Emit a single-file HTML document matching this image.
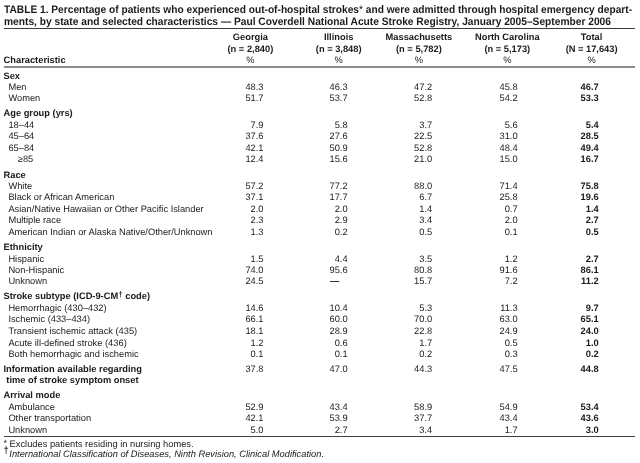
<!DOCTYPE html>
<html><head><meta charset="utf-8"><style>
html,body{margin:0;padding:0;background:#fff;}
body{width:640px;height:463px;position:relative;overflow:hidden;text-rendering:geometricPrecision;font-family:"Liberation Sans",Arial,sans-serif;color:#1a1a1a;}
.t{position:absolute;white-space:nowrap;font-size:9.3px;line-height:12px;}
.ti{font-size:10.9px;font-weight:bold;}
.b{font-weight:bold;}
.i{font-style:italic;}
.c{width:120px;text-align:center;}
.fn{font-size:9px;}
.fn2{font-size:9.4px;font-weight:bold;}
sup{font-size:0.86em;line-height:0;vertical-align:1.6px;}
.ast{font-weight:normal;}
.rule{position:absolute;left:4px;width:631px;}
#w{position:absolute;left:0;top:0;width:640px;height:463px;will-change:transform;}
</style></head><body><div id="w">
<div class="t ti" style="top:3.62px;left:4.00px;transform:scaleX(0.9345);transform-origin:0 0">TABLE 1. Percentage of patients who experienced out-of-hospital strokes<span class="ast">*</span> and were admitted through hospital emergency depart-</div>
<div class="t ti" style="top:16.12px;left:4.00px;transform:scaleX(0.938);transform-origin:0 0">ments, by state and selected characteristics &mdash; Paul Coverdell National Acute Stroke Registry, January 2005&ndash;September 2006</div>
<div class="rule" style="top:28px;height:1px;background:#3d3a3c"></div>
<div class="t c b" style="top:31.03px;left:190.40px;">Georgia</div>
<div class="t c b" style="top:42.53px;left:190.40px;">(n = 2,840)</div>
<div class="t c " style="top:54.08px;left:190.40px;">%</div>
<div class="t c b" style="top:31.03px;left:278.70px;">Illinois</div>
<div class="t c b" style="top:42.53px;left:278.70px;">(n = 3,848)</div>
<div class="t c " style="top:54.08px;left:278.70px;">%</div>
<div class="t c b" style="top:31.03px;left:358.90px;">Massachusetts</div>
<div class="t c b" style="top:42.53px;left:358.90px;">(n = 5,782)</div>
<div class="t c " style="top:54.08px;left:358.90px;">%</div>
<div class="t c b" style="top:31.03px;left:447.30px;">North Carolina</div>
<div class="t c b" style="top:42.53px;left:447.30px;">(n = 5,173)</div>
<div class="t c " style="top:54.08px;left:447.30px;">%</div>
<div class="t c b" style="top:31.03px;left:531.60px;">Total</div>
<div class="t c b" style="top:42.53px;left:531.60px;">(N = 17,643)</div>
<div class="t c " style="top:54.08px;left:531.60px;">%</div>
<div class="t b" style="top:54.08px;left:3.60px;">Characteristic</div>
<div class="rule" style="top:66px;height:2px;background:#8e8a8b"></div>
<div class="t b" style="top:70.08px;left:3.50px;">Sex</div>
<div class="t " style="top:81.08px;left:8.40px;">Men</div>
<div class="t " style="top:81.08px;right:376.50px;">48.3</div>
<div class="t " style="top:81.08px;right:292.40px;">46.3</div>
<div class="t " style="top:81.08px;right:207.80px;">47.2</div>
<div class="t " style="top:81.08px;right:122.40px;">45.8</div>
<div class="t b" style="top:81.08px;right:41.30px;">46.7</div>
<div class="t " style="top:92.08px;left:8.40px;">Women</div>
<div class="t " style="top:92.08px;right:376.50px;">51.7</div>
<div class="t " style="top:92.08px;right:292.40px;">53.7</div>
<div class="t " style="top:92.08px;right:207.80px;">52.8</div>
<div class="t " style="top:92.08px;right:122.40px;">54.2</div>
<div class="t b" style="top:92.08px;right:41.30px;">53.3</div>
<div class="t b" style="top:107.08px;left:3.50px;">Age group (yrs)</div>
<div class="t " style="top:119.08px;left:8.40px;">18&ndash;44</div>
<div class="t " style="top:119.08px;right:376.50px;">7.9</div>
<div class="t " style="top:119.08px;right:292.40px;">5.8</div>
<div class="t " style="top:119.08px;right:207.80px;">3.7</div>
<div class="t " style="top:119.08px;right:122.40px;">5.6</div>
<div class="t b" style="top:119.08px;right:41.30px;">5.4</div>
<div class="t " style="top:130.08px;left:8.40px;">45&ndash;64</div>
<div class="t " style="top:130.08px;right:376.50px;">37.6</div>
<div class="t " style="top:130.08px;right:292.40px;">27.6</div>
<div class="t " style="top:130.08px;right:207.80px;">22.5</div>
<div class="t " style="top:130.08px;right:122.40px;">31.0</div>
<div class="t b" style="top:130.08px;right:41.30px;">28.5</div>
<div class="t " style="top:142.08px;left:8.40px;">65&ndash;84</div>
<div class="t " style="top:142.08px;right:376.50px;">42.1</div>
<div class="t " style="top:142.08px;right:292.40px;">50.9</div>
<div class="t " style="top:142.08px;right:207.80px;">52.8</div>
<div class="t " style="top:142.08px;right:122.40px;">48.4</div>
<div class="t b" style="top:142.08px;right:41.30px;">49.4</div>
<div class="t " style="top:153.08px;left:17.80px;">&ge;85</div>
<div class="t " style="top:153.08px;right:376.50px;">12.4</div>
<div class="t " style="top:153.08px;right:292.40px;">15.6</div>
<div class="t " style="top:153.08px;right:207.80px;">21.0</div>
<div class="t " style="top:153.08px;right:122.40px;">15.0</div>
<div class="t b" style="top:153.08px;right:41.30px;">16.7</div>
<div class="t b" style="top:169.08px;left:3.50px;">Race</div>
<div class="t " style="top:180.08px;left:8.40px;">White</div>
<div class="t " style="top:180.08px;right:376.50px;">57.2</div>
<div class="t " style="top:180.08px;right:292.40px;">77.2</div>
<div class="t " style="top:180.08px;right:207.80px;">88.0</div>
<div class="t " style="top:180.08px;right:122.40px;">71.4</div>
<div class="t b" style="top:180.08px;right:41.30px;">75.8</div>
<div class="t " style="top:191.08px;left:8.40px;">Black or African American</div>
<div class="t " style="top:191.08px;right:376.50px;">37.1</div>
<div class="t " style="top:191.08px;right:292.40px;">17.7</div>
<div class="t " style="top:191.08px;right:207.80px;">6.7</div>
<div class="t " style="top:191.08px;right:122.40px;">25.8</div>
<div class="t b" style="top:191.08px;right:41.30px;">19.6</div>
<div class="t " style="top:203.08px;left:8.40px;">Asian/Native Hawaiian or Other Pacific Islander</div>
<div class="t " style="top:203.08px;right:376.50px;">2.0</div>
<div class="t " style="top:203.08px;right:292.40px;">2.0</div>
<div class="t " style="top:203.08px;right:207.80px;">1.4</div>
<div class="t " style="top:203.08px;right:122.40px;">0.7</div>
<div class="t b" style="top:203.08px;right:41.30px;">1.4</div>
<div class="t " style="top:214.08px;left:8.40px;">Multiple race</div>
<div class="t " style="top:214.08px;right:376.50px;">2.3</div>
<div class="t " style="top:214.08px;right:292.40px;">2.9</div>
<div class="t " style="top:214.08px;right:207.80px;">3.4</div>
<div class="t " style="top:214.08px;right:122.40px;">2.0</div>
<div class="t b" style="top:214.08px;right:41.30px;">2.7</div>
<div class="t " style="top:226.08px;left:8.40px;">American Indian or Alaska Native/Other/Unknown</div>
<div class="t " style="top:226.08px;right:376.50px;">1.3</div>
<div class="t " style="top:226.08px;right:292.40px;">0.2</div>
<div class="t " style="top:226.08px;right:207.80px;">0.5</div>
<div class="t " style="top:226.08px;right:122.40px;">0.1</div>
<div class="t b" style="top:226.08px;right:41.30px;">0.5</div>
<div class="t b" style="top:241.08px;left:3.50px;">Ethnicity</div>
<div class="t " style="top:253.08px;left:8.40px;">Hispanic</div>
<div class="t " style="top:253.08px;right:376.50px;">1.5</div>
<div class="t " style="top:253.08px;right:292.40px;">4.4</div>
<div class="t " style="top:253.08px;right:207.80px;">3.5</div>
<div class="t " style="top:253.08px;right:122.40px;">1.2</div>
<div class="t b" style="top:253.08px;right:41.30px;">2.7</div>
<div class="t " style="top:264.08px;left:8.40px;">Non-Hispanic</div>
<div class="t " style="top:264.08px;right:376.50px;">74.0</div>
<div class="t " style="top:264.08px;right:292.40px;">95.6</div>
<div class="t " style="top:264.08px;right:207.80px;">80.8</div>
<div class="t " style="top:264.08px;right:122.40px;">91.6</div>
<div class="t b" style="top:264.08px;right:41.30px;">86.1</div>
<div class="t " style="top:275.08px;left:8.40px;">Unknown</div>
<div class="t " style="top:275.08px;right:376.50px;">24.5</div>
<div class="t b" style="top:275.08px;right:300.60px;">&mdash;</div>
<div class="t " style="top:275.08px;right:207.80px;">15.7</div>
<div class="t " style="top:275.08px;right:122.40px;">7.2</div>
<div class="t b" style="top:275.08px;right:41.30px;">11.2</div>
<div class="t b" style="top:290.08px;left:3.50px;">Stroke subtype (ICD-9-CM<sup>&dagger;</sup> code)</div>
<div class="t " style="top:302.08px;left:8.40px;">Hemorrhagic (430&ndash;432)</div>
<div class="t " style="top:302.08px;right:376.50px;">14.6</div>
<div class="t " style="top:302.08px;right:292.40px;">10.4</div>
<div class="t " style="top:302.08px;right:207.80px;">5.3</div>
<div class="t " style="top:302.08px;right:122.40px;">11.3</div>
<div class="t b" style="top:302.08px;right:41.30px;">9.7</div>
<div class="t " style="top:313.08px;left:8.40px;">Ischemic (433&ndash;434)</div>
<div class="t " style="top:313.08px;right:376.50px;">66.1</div>
<div class="t " style="top:313.08px;right:292.40px;">60.0</div>
<div class="t " style="top:313.08px;right:207.80px;">70.0</div>
<div class="t " style="top:313.08px;right:122.40px;">63.0</div>
<div class="t b" style="top:313.08px;right:41.30px;">65.1</div>
<div class="t " style="top:325.08px;left:8.40px;">Transient ischemic attack (435)</div>
<div class="t " style="top:325.08px;right:376.50px;">18.1</div>
<div class="t " style="top:325.08px;right:292.40px;">28.9</div>
<div class="t " style="top:325.08px;right:207.80px;">22.8</div>
<div class="t " style="top:325.08px;right:122.40px;">24.9</div>
<div class="t b" style="top:325.08px;right:41.30px;">24.0</div>
<div class="t " style="top:337.08px;left:8.40px;">Acute ill-defined stroke (436)</div>
<div class="t " style="top:337.08px;right:376.50px;">1.2</div>
<div class="t " style="top:337.08px;right:292.40px;">0.6</div>
<div class="t " style="top:337.08px;right:207.80px;">1.7</div>
<div class="t " style="top:337.08px;right:122.40px;">0.5</div>
<div class="t b" style="top:337.08px;right:41.30px;">1.0</div>
<div class="t " style="top:348.08px;left:8.40px;">Both hemorrhagic and ischemic</div>
<div class="t " style="top:348.08px;right:376.50px;">0.1</div>
<div class="t " style="top:348.08px;right:292.40px;">0.1</div>
<div class="t " style="top:348.08px;right:207.80px;">0.2</div>
<div class="t " style="top:348.08px;right:122.40px;">0.3</div>
<div class="t b" style="top:348.08px;right:41.30px;">0.2</div>
<div class="t b" style="top:363.08px;left:3.50px;">Information available regarding</div>
<div class="t " style="top:363.08px;right:376.50px;">37.8</div>
<div class="t " style="top:363.08px;right:292.40px;">47.0</div>
<div class="t " style="top:363.08px;right:207.80px;">44.3</div>
<div class="t " style="top:363.08px;right:122.40px;">47.5</div>
<div class="t b" style="top:363.08px;right:41.30px;">44.8</div>
<div class="t b" style="top:374.08px;left:6.30px;">time of stroke symptom onset</div>
<div class="t b" style="top:389.08px;left:3.50px;">Arrival mode</div>
<div class="t " style="top:401.08px;left:8.40px;">Ambulance</div>
<div class="t " style="top:401.08px;right:376.50px;">52.9</div>
<div class="t " style="top:401.08px;right:292.40px;">43.4</div>
<div class="t " style="top:401.08px;right:207.80px;">58.9</div>
<div class="t " style="top:401.08px;right:122.40px;">54.9</div>
<div class="t b" style="top:401.08px;right:41.30px;">53.4</div>
<div class="t " style="top:412.08px;left:8.40px;">Other transportation</div>
<div class="t " style="top:412.08px;right:376.50px;">42.1</div>
<div class="t " style="top:412.08px;right:292.40px;">53.9</div>
<div class="t " style="top:412.08px;right:207.80px;">37.7</div>
<div class="t " style="top:412.08px;right:122.40px;">43.4</div>
<div class="t b" style="top:412.08px;right:41.30px;">43.6</div>
<div class="t " style="top:424.08px;left:8.40px;">Unknown</div>
<div class="t " style="top:424.08px;right:376.50px;">5.0</div>
<div class="t " style="top:424.08px;right:292.40px;">2.7</div>
<div class="t " style="top:424.08px;right:207.80px;">3.4</div>
<div class="t " style="top:424.08px;right:122.40px;">1.7</div>
<div class="t b" style="top:424.08px;right:41.30px;">3.0</div>
<div class="rule" style="top:436px;height:1px;background:#404040"></div>
<div class="t fn" style="top:437.1px;left:3.6px;">*</div>
<div class="t " style="top:438.08px;left:9.60px;">Excludes patients residing in nursing homes.</div>
<div class="t fn2" style="top:444.0px;left:3.4px;">&dagger;</div>
<div class="t i" style="top:448.08px;left:9.30px;">International Classification of Diseases, Ninth Revision, Clinical Modification.</div>
</div></body></html>
